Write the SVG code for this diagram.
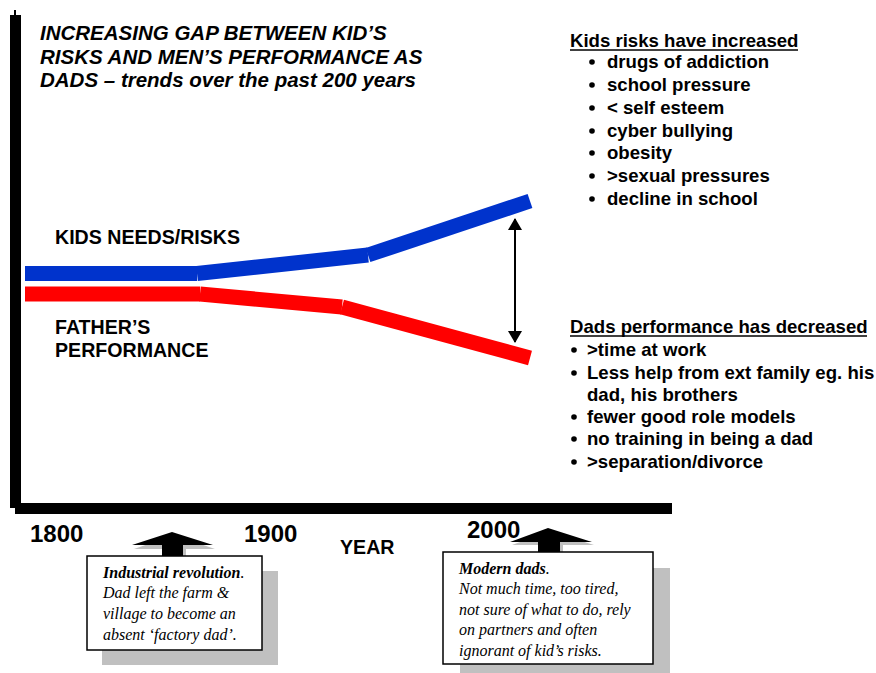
<svg xmlns="http://www.w3.org/2000/svg" width="876" height="673" viewBox="0 0 876 673">
  <style>
    .title { font-family: "Liberation Sans", Arial, sans-serif; font-size: 20.5px; font-weight: bold; font-style: italic; fill: #000; }
    .lbl { font-family: "Liberation Sans", Arial, sans-serif; font-size: 18.6px; font-weight: bold; fill: #000; }
    .big { font-family: "Liberation Sans", Arial, sans-serif; font-size: 19.6px; font-weight: bold; fill: #000; }
    .year { font-family: "Liberation Sans", Arial, sans-serif; font-size: 24px; font-weight: bold; fill: #000; }
    .note { font-family: "Liberation Serif", "Times New Roman", serif; font-size: 16px; font-style: italic; fill: #000; }
    .axis { fill: #000; }
    .blue { stroke: #0033cc; stroke-width: 15; fill: none; stroke-linecap: butt; }
    .red { stroke: #ff0000; stroke-width: 15; fill: none; stroke-linecap: butt; }
    .box { fill: #fff; stroke: #000; stroke-width: 1.5; }
    .shadow { fill: #c0c0c0; }
    .ul { stroke: #000; stroke-width: 1.6; }
  </style>
  <defs>
    <marker id="tip" viewBox="0 0 12 14" refX="11" refY="7" markerWidth="12" markerHeight="14" markerUnits="userSpaceOnUse" orient="auto-start-reverse">
      <path d="M0,0 L12,7 L0,14 Z" fill="#000"/>
    </marker>
  </defs>

  <rect width="876" height="673" fill="#fff"/>

  <!-- chart axes -->
  <g id="axes">
    <rect class="axis" x="14" y="10" width="2" height="6"/>
    <rect class="axis" x="10" y="15" width="11" height="493"/>
    <rect class="axis" x="15" y="503" width="657" height="11"/>
  </g>

  <!-- title -->
  <g id="title">
    <text class="title" x="40" y="40">INCREASING GAP BETWEEN KID’S</text>
    <text class="title" x="40" y="64">RISKS AND MEN’S PERFORMANCE AS</text>
    <text class="title" x="40" y="87">DADS – trends over the past 200 years</text>
  </g>

  <!-- trend lines -->
  <g id="kids-line">
    <line class="blue" x1="25" y1="273.5" x2="197" y2="273.5"/>
    <line class="blue" x1="197" y1="273.5" x2="368" y2="255"/>
    <line class="blue" x1="368" y1="255" x2="530" y2="201"/>
  </g>
  <g id="father-line">
    <line class="red" x1="25" y1="294" x2="200" y2="294"/>
    <line class="red" x1="200" y1="294" x2="342" y2="307"/>
    <line class="red" x1="342" y1="307" x2="530" y2="358"/>
  </g>

  <g id="connectors">
    <line x1="515" y1="219" x2="515" y2="342" stroke="#000" stroke-width="2" marker-start="url(#tip)" marker-end="url(#tip)"/>
  </g>

  <g id="line-labels">
    <text class="big" x="55" y="244">KIDS NEEDS/RISKS</text>
    <text class="big" x="55" y="334">FATHER’S</text>
    <text class="big" x="55" y="357">PERFORMANCE</text>
  </g>

  <!-- kids risks list -->
  <g id="kids-risks">
    <text class="lbl" x="570" y="47">Kids risks have increased</text>
    <line class="ul" x1="570" y1="50" x2="798" y2="50"/>
    <circle cx="592" cy="62" r="2.8"/><text class="lbl" x="607" y="68">drugs of addiction</text>
    <circle cx="592" cy="85" r="2.8"/><text class="lbl" x="607" y="91">school pressure</text>
    <circle cx="592" cy="108" r="2.8"/><text class="lbl" x="607" y="114">&lt; self esteem</text>
    <circle cx="592" cy="131" r="2.8"/><text class="lbl" x="607" y="137">cyber bullying</text>
    <circle cx="592" cy="153" r="2.8"/><text class="lbl" x="607" y="159">obesity</text>
    <circle cx="592" cy="176" r="2.8"/><text class="lbl" x="607" y="182">&gt;sexual pressures</text>
    <circle cx="592" cy="199" r="2.8"/><text class="lbl" x="607" y="205">decline in school</text>
  </g>

  <!-- dads performance list -->
  <g id="dads-performance">
    <text class="lbl" x="570" y="333">Dads performance has decreased</text>
    <line class="ul" x1="570" y1="336" x2="867" y2="336"/>
    <circle cx="574" cy="350" r="2.8"/><text class="lbl" x="587" y="356">&gt;time at work</text>
    <circle cx="574" cy="373" r="2.8"/><text class="lbl" x="587" y="379">Less help from ext family eg. his</text>
    <text class="lbl" x="587" y="401">dad, his brothers</text>
    <circle cx="574" cy="417" r="2.8"/><text class="lbl" x="587" y="423">fewer good role models</text>
    <circle cx="574" cy="439" r="2.8"/><text class="lbl" x="587" y="445">no training in being a dad</text>
    <circle cx="574" cy="462" r="2.8"/><text class="lbl" x="587" y="468">&gt;separation/divorce</text>
  </g>

  <!-- axis labels -->
  <g id="axis-labels">
    <text class="year" x="30" y="542">1800</text>
    <text class="year" x="244" y="542">1900</text>
    <text class="year" x="467" y="538">2000</text>
    <text class="big" x="340" y="554">YEAR</text>
  </g>

  <!-- callout: industrial revolution -->
  <g id="industrial-revolution">
    <rect class="shadow" x="102" y="571" width="176" height="94"/>
    <path class="shadow" d="M174,535 L215,549 L186,549 L186,562 L166,562 L166,549 L134,549 Z"/>
    <path fill="#000" d="M172,532 L213,545 L183,545 L183,559 L162,559 L162,545 L132,545 Z"/>
    <rect class="box" x="87" y="556" width="175" height="94"/>
    <text class="note" x="103" y="578"><tspan font-weight="bold">Industrial revolution</tspan>.</text>
    <text class="note" x="103" y="598">Dad left the farm &amp;</text>
    <text class="note" x="103" y="619">village to become an</text>
    <text class="note" x="103" y="640">absent ‘factory dad’.</text>
  </g>

  <!-- callout: modern dads -->
  <g id="modern-dads">
    <rect class="shadow" x="460" y="568" width="210" height="110"/>
    <path class="shadow" d="M550,531 L594,545 L563,545 L563,556 L541,556 L541,545 L512,545 Z"/>
    <path fill="#000" d="M548,528 L592,542 L560,542 L560,553 L538,553 L538,542 L510,542 Z"/>
    <rect class="box" x="443" y="552" width="210" height="112"/>
    <text class="note" x="459" y="574"><tspan font-weight="bold">Modern dads</tspan>.</text>
    <text class="note" x="459" y="594">Not much time, too tired,</text>
    <text class="note" x="459" y="615">not sure of what to do, rely</text>
    <text class="note" x="459" y="635">on partners and often</text>
    <text class="note" x="459" y="656">ignorant of kid’s risks.</text>
  </g>
</svg>
